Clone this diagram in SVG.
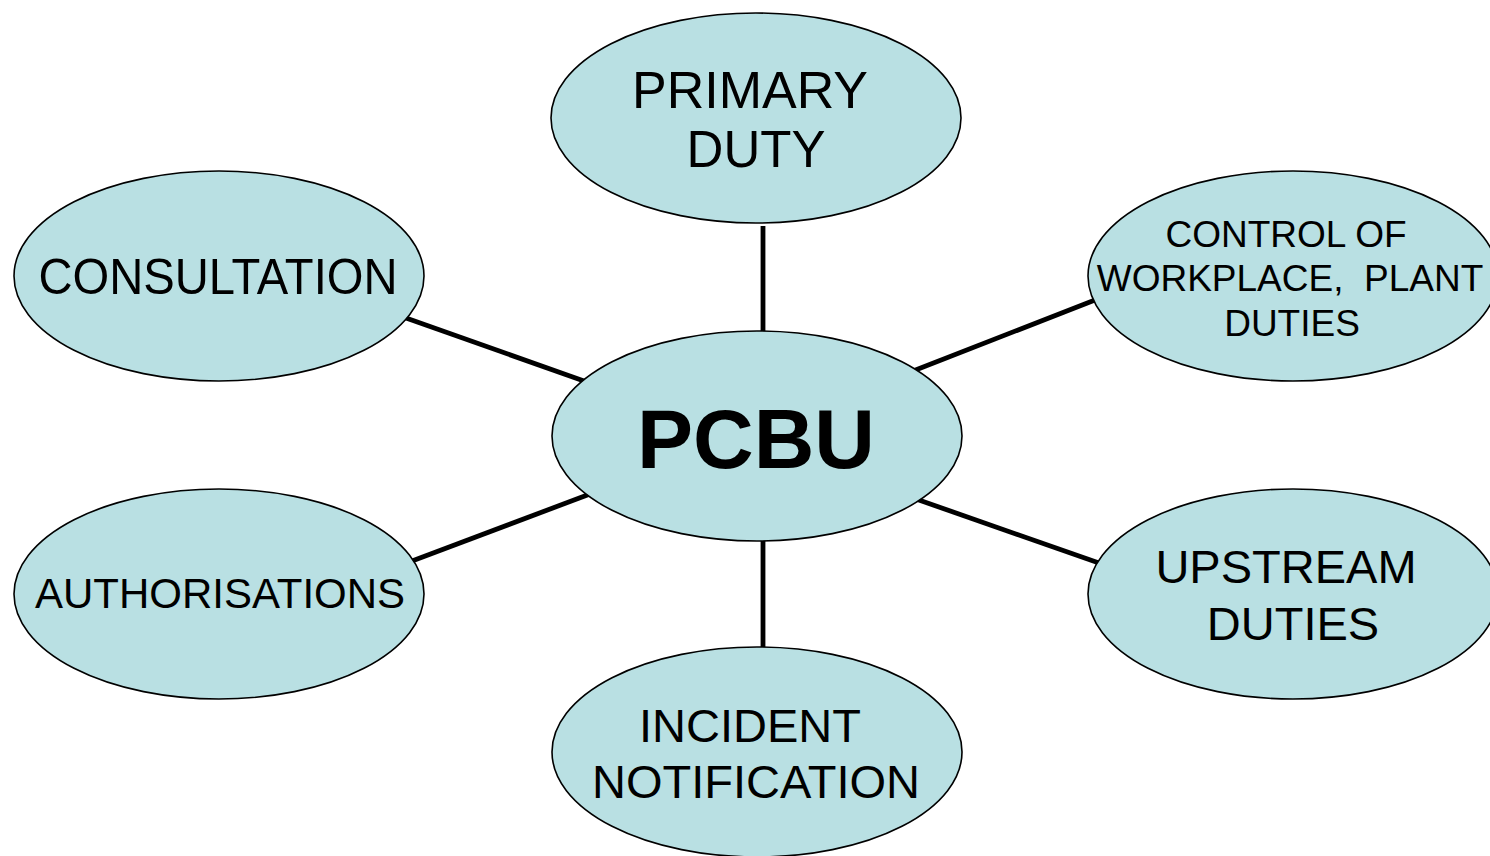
<svg xmlns="http://www.w3.org/2000/svg" width="1490" height="856" viewBox="0 0 1490 856">
<style>
.node ellipse{fill:#b9e0e3;stroke:#000;stroke-width:1.6}
.lbl{font-family:"Liberation Sans",Arial,sans-serif;fill:#000;text-anchor:middle}
#connectors line{stroke:#000;stroke-width:4.8;stroke-linecap:butt}
</style>
<rect width="1490" height="856" fill="#fff"/>
<g id="connectors">
<line x1="763" y1="226" x2="763" y2="334"/>
<line x1="763" y1="538" x2="763" y2="649"/>
<line x1="406" y1="318" x2="584" y2="381"/>
<line x1="1095" y1="300" x2="913" y2="371"/>
<line x1="412" y1="561" x2="590" y2="494"/>
<line x1="916" y1="499" x2="1099" y2="563"/>
</g>
<g id="primary" class="node">
<ellipse cx="756" cy="118" rx="205" ry="105"/>
<text class="lbl" x="750" y="108" font-size="52">PRIMARY</text>
<text class="lbl" x="756" y="167" font-size="51">DUTY</text>
</g>
<g id="consultation" class="node">
<ellipse cx="219" cy="276" rx="205" ry="105"/>
<text class="lbl" x="218" y="294" font-size="50" textLength="359" lengthAdjust="spacingAndGlyphs">CONSULTATION</text>
</g>
<g id="control" class="node">
<ellipse cx="1293" cy="276" rx="205" ry="105"/>
<text class="lbl" x="1286" y="247" font-size="37">CONTROL OF</text>
<text class="lbl" x="1290" y="291" font-size="37" xml:space="preserve">WORKPLACE,  PLANT</text>
<text class="lbl" x="1292" y="336" font-size="37">DUTIES</text>
</g>
<g id="pcbu" class="node">
<ellipse cx="757" cy="436" rx="205" ry="105"/>
<text class="lbl" x="756" y="468" font-size="84" font-weight="bold">PCBU</text>
</g>
<g id="authorisations" class="node">
<ellipse cx="219" cy="594" rx="205" ry="105"/>
<text class="lbl" x="220" y="608" font-size="42">AUTHORISATIONS</text>
</g>
<g id="upstream" class="node">
<ellipse cx="1293" cy="594" rx="205" ry="105"/>
<text class="lbl" x="1286" y="583" font-size="47">UPSTREAM</text>
<text class="lbl" x="1293" y="640" font-size="47">DUTIES</text>
</g>
<g id="incident" class="node">
<ellipse cx="757" cy="752" rx="205" ry="105"/>
<text class="lbl" x="750" y="742" font-size="47">INCIDENT</text>
<text class="lbl" x="756" y="798" font-size="47">NOTIFICATION</text>
</g>
</svg>
